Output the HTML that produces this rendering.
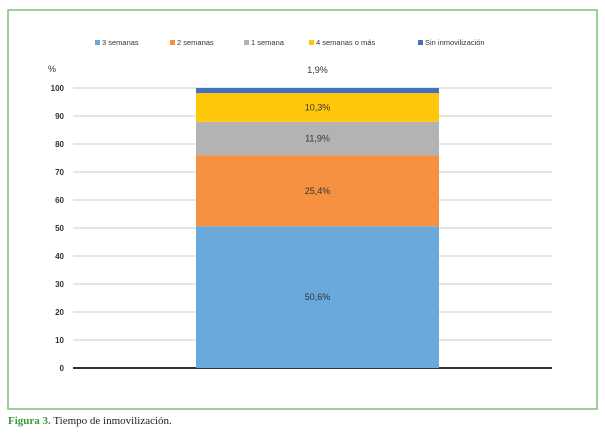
<!DOCTYPE html>
<html><head><meta charset="utf-8"><style>
body{margin:0;width:605px;height:435px;background:#fff;font-family:"Liberation Sans",sans-serif;overflow:hidden}
</style></head><body>
<svg width="605" height="435" xmlns="http://www.w3.org/2000/svg">
<rect x="8" y="10" width="589" height="399" fill="#fff" stroke="#7cc07a" stroke-width="1.5"/>
<g id="legend"></g>
<text x="48" y="72" font-size="9" fill="#333">%</text>
<g id="grid"></g>
<g id="bars"></g>
<text x="8" y="424" font-family="Liberation Serif,serif" font-size="11"><tspan fill="#3a9a3a" font-weight="bold">Figura 3.</tspan><tspan fill="#222"> Tiempo de inmovilización.</tspan></text>
</svg>
<script>
const series=["3 semanas","2 semanas","1 semana","4 semanas o más","Sin inmovilización"];
const values=[50.6,25.4,11.9,10.3,1.9];
const labels=["50,6%","25,4%","11,9%","10,3%","1,9%"];
const ticks=[0,10,20,30,40,50,60,70,80,90,100];
const colors=["#69a9dc","#f59140","#b3b3b3","#ffc70a","#4471c4"];
const NS="http://www.w3.org/2000/svg";
const y0=368,y100=88,x0=73,x1=552,bx0=196,bx1=439;
const y=v=>y0-(v/100)*(y0-y100);
function mk(t,a,p){const e=document.createElementNS(NS,t);for(const k in a)e.setAttribute(k,a[k]);p.appendChild(e);return e;}
const grid=document.getElementById('grid');
ticks.forEach(t=>{
 const l=mk('line',{x1:x0,x2:x1,y1:y(t),y2:y(t),stroke:t===0?'#333':'#ddd','stroke-width':t===0?2:1.5},grid);
 
 
 const tx=mk('text',{x:64,y:y(t)+3,'text-anchor':'end','font-size':8,'font-weight':'bold',fill:'#333'},grid);
 tx.textContent=t;
 
 
});
const bars=document.getElementById('bars');
let acc=0;
values.forEach((v,i)=>{
 const top=y(Math.min(acc+v,100)),bot=y(acc);
 const r=mk('rect',{x:bx0,y:top,width:bx1-bx0,height:bot-top,fill:colors[i]},bars);
 
 
 const ly=i===values.length-1?y(100)-15:(top+bot)/2+3;
 const t=mk('text',{x:(bx0+bx1)/2,y:ly,'text-anchor':'middle','font-size':9,fill:'#333'},bars);
 t.textContent=labels[i];
 
 
 acc+=v;
});
const lg=document.getElementById('legend');
const lx=[95,170,244,309,418];
series.forEach((s,i)=>{
 const g=mk('g',{},lg);
 
 
 mk('rect',{x:lx[i],y:40,width:5,height:5,fill:colors[i]},g);
 const t=mk('text',{x:lx[i]+7,y:45,'font-size':7.5,fill:'#333'},g);
 t.textContent=s;
});
</script>
</body></html>
